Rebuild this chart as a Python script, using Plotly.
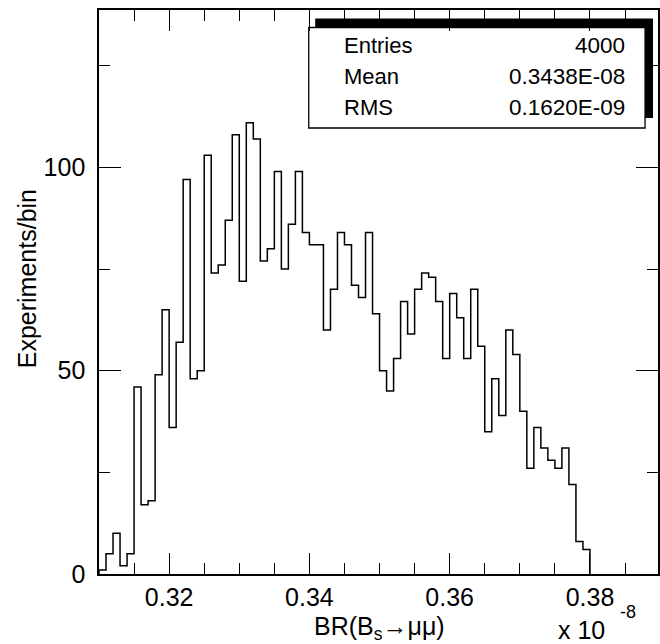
import numpy as np
import plotly.graph_objects as go

# Histogram: BR(Bs->mumu) in units of 1e-8, 70 bins of width 0.001 starting at 0.310
bin_start = 0.310
bin_width = 0.001
counts = [1, 5, 10, 2, 5, 46, 17, 18, 49, 65,
          36, 57, 97, 48, 50, 103, 74, 76, 87, 108,
          72, 111, 107, 77, 80, 99, 75, 86, 99, 84,
          81, 81, 60, 70, 84, 81, 71, 68, 84, 64,
          50, 45, 53, 67, 59, 70, 74, 73, 67, 53,
          69, 63, 53, 70, 56, 35, 48, 39, 60, 54,
          40, 26, 36, 31, 28, 26, 31, 22, 8, 6]
stat_labels = ["Entries", "Mean", "RMS"]
stat_values = ["4000", "0.3438E-08", "0.1620E-09"]
x_title = "BR(B<sub>s</sub>→μμ)"
y_title = "Experiments/bin"

edges = [round(bin_start + bin_width * i, 4) for i in range(len(counts) + 1)]
xs = [edges[0]] + edges[:-1] + [edges[-1]]
ys = [0] + counts + [0]

W, H = 660, 644
L, R, T, B = 99, 0, 10, 70
PW, PH = W - L - R, H - T - B


def px(x):
    return (x - L) / PW


def py(y):
    return (H - B - y) / PH


FONT = "Liberation Sans, Arial, Helvetica, sans-serif"

fig = go.Figure()
fig.add_trace(go.Scatter(x=xs, y=ys, mode="lines", line=dict(color="black", width=1.5, shape="hv"),
                         hoverinfo="skip", showlegend=False))

axis_common = dict(showline=True, linecolor="black", linewidth=1.5, mirror="ticks",
                   ticks="inside", tickcolor="black", tickwidth=1.4, showgrid=False, zeroline=False,
                   tickfont=dict(family=FONT, size=25, color="black"))

fig.update_layout(
    width=W, height=H, margin=dict(l=L, r=R, t=T, b=B),
    paper_bgcolor="white", plot_bgcolor="rgba(0,0,0,0)",
    xaxis=dict(range=[0.31, 0.3897], dtick=0.02, tick0=0.30, tickformat=".2f", ticklen=21,
               minor=dict(dtick=0.005, tick0=0.30, ticks="inside", ticklen=11, tickcolor="black", tickwidth=1.4),
               **axis_common),
    yaxis=dict(range=[0, 138.7], dtick=50, tick0=0, ticklen=22, ticksuffix="\u00a0",
               minor=dict(dtick=25, tick0=0, ticks="inside", ticklen=11, tickcolor="black", tickwidth=1.4),
               **axis_common),
)

# stats box shadow and box
fig.add_shape(type="rect", xref="paper", yref="paper", layer="below",
              x0=px(316), x1=px(655), y0=py(118), y1=py(18.5),
              fillcolor="black", line=dict(width=0))
fig.add_shape(type="rect", xref="paper", yref="paper", layer="below",
              x0=px(309.5), x1=px(647), y0=py(128), y1=py(27.5),
              fillcolor="white", line=dict(color="black", width=1.3))

rows_y = [45, 77, 108]
for lab, val, yy in zip(stat_labels, stat_values, rows_y):
    fig.add_annotation(xref="paper", yref="paper", x=px(343), y=py(yy), text=lab, showarrow=False,
                       xanchor="left", yanchor="middle", font=dict(family=FONT, size=22, color="black"))
    fig.add_annotation(xref="paper", yref="paper", x=px(629), y=py(yy), text=val, showarrow=False,
                       xanchor="right", yanchor="middle", font=dict(family=FONT, size=22.5, color="black"))

fig.add_annotation(xref="paper", yref="paper", x=px(27), y=py(279), text=y_title, textangle=-90,
                   showarrow=False, xanchor="center", yanchor="middle",
                   font=dict(family=FONT, size=25, color="black"))
fig.add_annotation(xref="paper", yref="paper", x=px(381), y=py(628), text=x_title,
                   showarrow=False, xanchor="center", yanchor="middle",
                   font=dict(family=FONT, size=25, color="black"))
fig.add_annotation(xref="paper", yref="paper", x=px(583), y=py(630), text="x 10",
                   showarrow=False, xanchor="center", yanchor="middle",
                   font=dict(family=FONT, size=25, color="black"))
fig.add_annotation(xref="paper", yref="paper", x=px(630), y=py(612), text="-8",
                   showarrow=False, xanchor="center", yanchor="middle",
                   font=dict(family=FONT, size=18, color="black"))

fig.write_html("out.html")
